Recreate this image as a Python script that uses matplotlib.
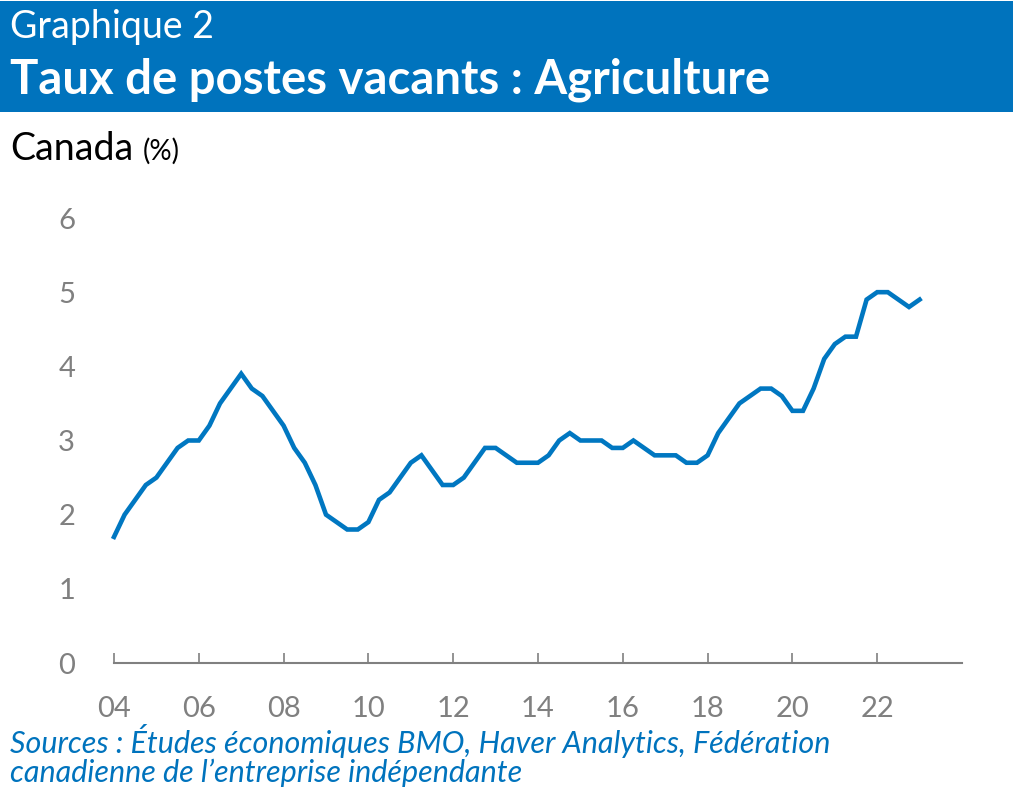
import numpy as np
import matplotlib.pyplot as plt
from matplotlib.patches import Rectangle

#-------------------------------------------------------------
# quarterly data, 2004T1 .. 2023T1
start_year = 2004
vacancy_rate = [1.7, 2.0, 2.2, 2.4, 2.5, 2.7, 2.9, 3.0, 3.0, 3.2,
                3.5, 3.7, 3.9, 3.7, 3.6, 3.4, 3.2, 2.9, 2.7, 2.4,
                2.0, 1.9, 1.8, 1.8, 1.9, 2.2, 2.3, 2.5, 2.7, 2.8,
                2.6, 2.4, 2.4, 2.5, 2.7, 2.9, 2.9, 2.8, 2.7, 2.7,
                2.7, 2.8, 3.0, 3.1, 3.0, 3.0, 3.0, 2.9, 2.9, 3.0,
                2.9, 2.8, 2.8, 2.8, 2.7, 2.7, 2.8, 3.1, 3.3, 3.5,
                3.6, 3.7, 3.7, 3.6, 3.4, 3.4, 3.7, 4.1, 4.3, 4.4,
                4.4, 4.9, 5.0, 5.0, 4.9, 4.8, 4.9]
x_ticks = [2004, 2006, 2008, 2010, 2012, 2014, 2016, 2018, 2020, 2022]
x_labels = ["04", "06", "08", "10", "12", "14", "16", "18", "20", "22"]
y_ticks = [0, 1, 2, 3, 4, 5, 6]

t = start_year + np.arange(len(vacancy_rate)) / 4.0

#-------------------------------------------------------------
BLUE = "#0073BD"
GREY = "#808080"
plt.rcParams['font.family'] = ['Lato', 'DejaVu Sans']

W, H = 1013, 801
fig = plt.figure(figsize=(W/100, H/100), dpi=100)

# header band
fig.patches.append(Rectangle((0, 1 - 112/H), 1, 111/H, transform=fig.transFigure,
                             facecolor=BLUE, edgecolor='none', zorder=0))
fig.text(10/W, 1 - 27/H, "Graphique 2", color='white', fontsize=27,
         fontweight='normal', va='center', ha='left')
fig.text(10/W, 1 - 80/H, "Taux de postes vacants : Agriculture", color='white',
         fontsize=34, fontweight='bold', va='center', ha='left')
fig.text(10/W, 1 - 149/H, "Canada", color='black', fontsize=27, va='center', ha='left')
fig.text(143/W, 1 - 151/H, "(%)", color='black', fontsize=20, va='center', ha='left')

fig.text(10/W, 1 - 741/H, "Sources : Études économiques BMO, Haver Analytics, Fédération",
         color=BLUE, fontsize=22, style='italic', va='center', ha='left')
fig.text(10/W, 1 - 773/H, "canadienne de l\u2019entreprise indépendante",
         color=BLUE, fontsize=22, style='italic', va='center', ha='left')

#-------------------------------------------------------------
ax = fig.add_axes([114/W, 1 - 663/H, (962 - 114)/W, (663 - 218)/H])
ax.plot(t, vacancy_rate, color="#0077C1", lw=3.3, solid_joinstyle='miter', clip_on=False)
ax.set_xlim(2004, 2024)
ax.set_ylim(0, 6)

ax.set_xticks(x_ticks)
ax.set_xticklabels(x_labels)
ax.set_yticks(y_ticks)

for s in ['left', 'right', 'top']:
    ax.spines[s].set_visible(False)
ax.spines['bottom'].set_color(GREY)
ax.spines['bottom'].set_linewidth(1.5)

ax.tick_params(axis='x', direction='in', length=7, width=1.2, color=GREY,
               labelcolor=GREY, labelsize=21, pad=24)
ax.tick_params(axis='y', length=0, labelcolor=GREY, labelsize=21, pad=28)

fig.savefig("out.png", dpi=100)
